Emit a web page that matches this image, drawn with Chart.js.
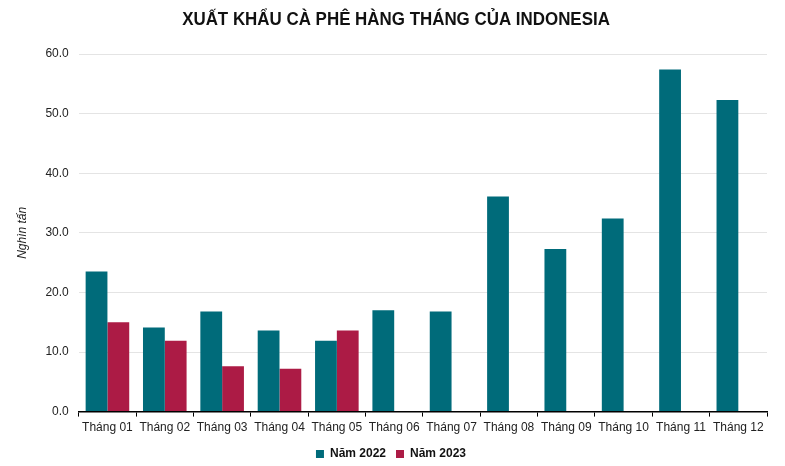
<!DOCTYPE html>
<html>
<head>
<meta charset="utf-8">
<script src="https://cdn.jsdelivr.net/npm/chart.js@4/dist/chart.umd.min.js"></script>
<style>
  html, body { margin: 0; padding: 0; background: #fff; }
  #wrap { width: 785px; height: 466px; }
</style>
</head>
<body>
<div id="wrap"><canvas id="exportChart"></canvas></div>
<script>
// data (nghìn tấn)
var months = ["Tháng 01","Tháng 02","Tháng 03","Tháng 04","Tháng 05","Tháng 06",
              "Tháng 07","Tháng 08","Tháng 09","Tháng 10","Tháng 11","Tháng 12"];
var values2022 = [23.5, 14.1, 16.8, 13.6, 11.9, 17.0, 16.8, 36.1, 27.3, 32.4, 57.4, 52.3];
var values2023 = [15.0, 11.9, 7.6, 7.2, 13.6, null, null, null, null, null, null, null];
var seriesNames = ["Năm 2022", "Năm 2023"];
var chartTitle = "XUẤT KHẨU CÀ PHÊ HÀNG THÁNG CỦA INDONESIA";

var tealColor = "rgb(0,107,122)";
var redColor = "rgb(172,27,69)";

// narrow bold title (no Arial Narrow here, so squeeze it a bit)
var narrowTitle = {
  id: "narrowTitle",
  afterDraw: function (chart) {
    var c = chart.ctx;
    c.save();
    c.font = "bold 18px 'Liberation Sans', Arial, sans-serif";
    c.fillStyle = "#111";
    c.textAlign = "center";
    c.textBaseline = "alphabetic";
    c.translate(396, 25);
    c.scale(0.94, 1);
    c.fillText(chartTitle, 0, 0);
    c.restore();
  }
};

var ctx = document.getElementById("exportChart").getContext("2d");
var exportChart = new Chart(ctx, {
  type: "bar",
  data: {
    labels: months,
    datasets: [
      {
        label: seriesNames[0],
        data: values2022,
        backgroundColor: tealColor,
        categoryPercentage: 0.76,
        barPercentage: 1.0
      },
      {
        label: seriesNames[1],
        data: values2023,
        backgroundColor: redColor,
        categoryPercentage: 0.76,
        barPercentage: 1.0
      }
    ]
  },
  plugins: [narrowTitle],
  options: {
    responsive: true,
    maintainAspectRatio: false,
    animation: false,
    layout: { padding: { left: 15, right: 18, top: 54, bottom: -4 } },
    plugins: {
      title: { display: false },
      legend: {
        position: "bottom",
        labels: {
          boxWidth: 8,
          boxHeight: 8,
          padding: 10,
          color: "#111",
          font: { family: "'Liberation Sans', Arial, sans-serif", size: 12, weight: "bold" }
        }
      },
      tooltip: { enabled: false }
    },
    scales: {
      x: {
        offset: true,
        grid: {
          display: true,
          offset: true,
          drawOnChartArea: false,
          drawTicks: true,
          tickLength: 5,
          color: "#000"
        },
        border: { display: true, color: "#000", width: 1.5 },
        ticks: {
          color: "#222",
          padding: 3.5,
          font: { family: "'Liberation Sans', Arial, sans-serif", size: 12 }
        }
      },
      y: {
        min: 0,
        max: 60,
        grid: { color: "#e4e4e4", lineWidth: 1, drawTicks: false },
        border: { display: false },
        ticks: {
          stepSize: 10,
          padding: 10,
          color: "#222",
          font: { family: "'Liberation Sans', Arial, sans-serif", size: 12 },
          callback: function (v) { return v.toFixed(1); }
        },
        title: {
          display: true,
          text: "Nghìn tấn",
          color: "#222",
          padding: { top: 0, bottom: 6 },
          font: { family: "'Liberation Sans', Arial, sans-serif", size: 12, style: "italic" }
        }
      }
    }
  }
});
</script>
</body>
</html>
